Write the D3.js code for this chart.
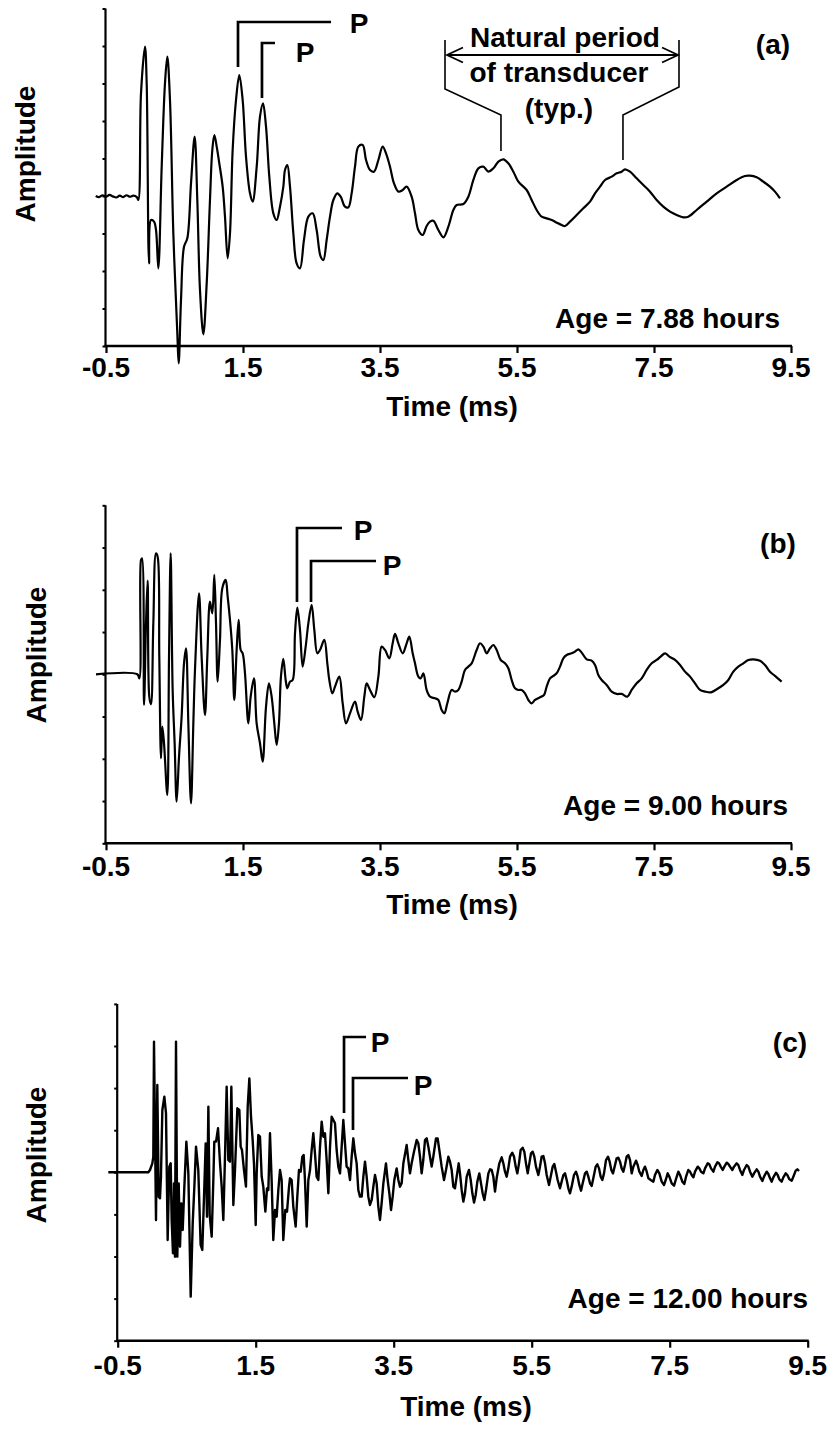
<!DOCTYPE html>
<html><head><meta charset="utf-8">
<script src="https://cdn.jsdelivr.net/npm/d3@7"></script>
<style>
body{margin:0;background:#fff}
text{font-family:"Liberation Sans",Arial,Helvetica,sans-serif;font-weight:bold;fill:#000}
</style>
</head><body>
<svg id="chart" width="836" height="1447"></svg>
<script>
// ---------------- DATA ----------------
const xTicks = [-0.5, 1.5, 3.5, 5.5, 7.5, 9.5];
const xTickLabels = ["-0.5", "1.5", "3.5", "5.5", "7.5", "9.5"];
const xTitle = "Time (ms)";
const yTitle = "Amplitude";
const panelLetters = ["(a)", "(b)", "(c)"];
const ageLabels = ["Age = 7.88 hours", "Age = 9.00 hours", "Age = 12.00 hours"];
const yDomains = [[-4, 5], [-4, 4], [-4, 4]];
const yTicksA = [-4, -3, -2, -1, 0, 1, 2, 3, 4, 5];
const yTicksBC = [-4, -3, -2, -1, 0, 1, 2, 3, 4];

// waveform (a): [time ms, amplitude]
const waveA = [[-0.65,0],[-0.6,-0.03],[-0.55,0.02],[-0.5,-0.02],[-0.45,0.03],[-0.4,-0.01],[-0.35,-0.04],[-0.3,0.01],[-0.25,-0.03],[-0.2,0.02],[-0.15,-0.02],[-0.1,0.01],[-0.05,-0.03],
[-0.028,-0.107],[0.011,2.738],[0.069,3.982],[0.094,3.004],[0.128,-1.796],[0.157,-0.64],[0.201,-0.684],[0.230,-0.907],[0.264,-1.929],[0.313,0.782],[0.361,3.004],[0.395,3.716],[0.434,2.56],[0.483,-0.996],[0.541,-3.662],[0.561,-4.462],[0.595,-2.773],[0.639,-1.351],[0.687,-1.129],[0.741,0.338],[0.794,1.582],[0.833,-0.107],[0.872,-2.507],[0.921,-3.689],[0.970,-2.329],[1.018,-0.107],[1.052,1.227],[1.082,1.627],[1.116,1.316],[1.154,0.871],[1.203,0.249],[1.237,-0.551],[1.276,-1.662],[1.310,-0.996],[1.349,1.227],[1.398,2.56],[1.446,3.227],[1.495,2.56],[1.544,1.049],[1.602,0.071],[1.641,-0.151],[1.700,0.782],[1.748,2.116],[1.792,2.471],[1.836,1.849],[1.884,0.516],[1.943,-0.462],[1.991,-0.64],[2.040,-0.284],[2.089,0.249],[2.113,0.693],[2.147,0.827],[2.186,0.249],[2.235,-0.996],[2.283,-1.796],[2.332,-1.929],[2.390,-1.173],[2.454,-0.551],[2.517,-0.462],[2.575,-0.907],[2.634,-1.618],[2.673,-1.707],[2.721,-1.173],[2.770,-0.551],[2.819,-0.107],[2.877,0.071],[2.926,-0.018],[2.989,-0.284],[3.038,-0.302],[3.086,0.071],[3.135,0.782],[3.184,1.316],[3.247,1.36],[3.296,0.96],[3.354,0.693],[3.412,0.649],[3.476,0.96],[3.539,1.316],[3.588,1.138],[3.646,0.782],[3.704,0.338],[3.768,0.116],[3.831,0.16],[3.889,0.249],[3.962,-0.018],[4.011,-0.462],[4.06,-0.907],[4.123,-1.04],[4.181,-0.8],[4.230,-0.684],[4.279,-0.658],[4.352,-0.907],[4.425,-1.102],[4.498,-0.818],[4.571,-0.373],[4.619,-0.24],[4.717,-0.213],[4.790,-0.018],[4.863,0.427],[4.936,0.738],[5.009,0.782],[5.082,0.649],[5.155,0.738],[5.228,0.916],[5.301,0.978],[5.374,0.871],[5.447,0.649],[5.520,0.382],[5.641,0.16],[5.714,-0.107],[5.787,-0.373],[5.860,-0.551],[5.933,-0.596],[6.006,-0.64],[6.079,-0.711],[6.152,-0.773],[6.201,-0.8],[6.274,-0.684],[6.371,-0.507],[6.468,-0.329],[6.566,-0.151],[6.639,0.071],[6.712,0.249],[6.785,0.427],[6.882,0.516],[6.955,0.604],[7.028,0.649],[7.077,0.711],[7.150,0.649],[7.247,0.471],[7.344,0.293],[7.442,0.116],[7.539,-0.107],[7.636,-0.284],[7.734,-0.418],[7.831,-0.507],[7.928,-0.569],[8.001,-0.551],[8.123,-0.373],[8.269,-0.151],[8.415,0.071],[8.561,0.249],[8.707,0.427],[8.828,0.533],[8.901,0.542],[8.999,0.498],[9.096,0.382],[9.193,0.249],[9.266,0.116],[9.339,-0.062]];

// waveform (b)
const waveB = [[-0.646,0],[-0.043,0],[-0.013,-0.095],[0.011,2.706],[0.026,2.746],[0.055,-0.726],[0.084,1.207],[0.108,2.217],[0.132,-0.529],[0.157,-0.71],[0.191,1.207],[0.230,2.864],[0.254,2.785],[0.278,0.418],[0.303,-1.988],[0.322,-1.239],[0.347,-1.633],[0.395,-2.856],[0.420,0.418],[0.444,2.864],[0.473,-0.371],[0.502,-1.633],[0.531,-3.014],[0.566,-1.949],[0.604,-1.002],[0.639,0.26],[0.668,0.615],[0.702,-1.16],[0.741,-3.053],[0.775,-1.16],[0.799,0.103],[0.858,1.917],[0.896,0.418],[0.945,-0.963],[0.979,0.418],[1.018,1.72],[1.052,1.444],[1.081,2.351],[1.106,1.207],[1.130,-0.174],[1.164,0.813],[1.198,2.036],[1.247,2.233],[1.276,1.838],[1.310,1.286],[1.344,0.576],[1.373,-0.607],[1.407,0.576],[1.437,1.286],[1.466,0.576],[1.495,0.497],[1.529,0.024],[1.578,-1.16],[1.612,-0.529],[1.660,-0.095],[1.699,-1.16],[1.748,-1.633],[1.787,-2.067],[1.836,-0.765],[1.879,-0.213],[1.918,-0.529],[1.957,-1.16],[1.991,-1.673],[2.025,-1.16],[2.054,-0.055],[2.088,0.363],[2.123,-0.134],[2.147,-0.331],[2.186,-0.174],[2.225,-0.134],[2.259,0.97],[2.293,1.578],[2.332,1.049],[2.371,0.181],[2.415,0.655],[2.454,1.207],[2.502,1.641],[2.541,1.049],[2.585,0.497],[2.624,0.576],[2.687,0.813],[2.731,0.26],[2.760,-0.134],[2.804,-0.45],[2.843,-0.292],[2.906,-0.055],[2.955,-0.686],[3.004,-1.16],[3.062,-0.923],[3.135,-0.647],[3.174,-0.884],[3.223,-1.081],[3.271,-0.529],[3.305,-0.213],[3.354,-0.371],[3.417,-0.544],[3.476,-0.055],[3.524,0.655],[3.573,0.576],[3.636,0.379],[3.685,0.734],[3.719,0.955],[3.768,0.734],[3.831,0.497],[3.889,0.734],[3.928,0.892],[3.977,0.497],[4.011,0.26],[4.060,-0.055],[4.094,-0.095],[4.133,0.024],[4.181,-0.371],[4.230,-0.529],[4.303,-0.568],[4.352,-0.608],[4.400,-0.844],[4.439,-0.923],[4.483,-0.686],[4.546,-0.371],[4.595,-0.41],[4.644,-0.371],[4.692,-0.174],[4.741,0.103],[4.790,0.181],[4.838,0.26],[4.911,0.576],[4.960,0.734],[5.009,0.655],[5.057,0.497],[5.106,0.615],[5.155,0.694],[5.203,0.576],[5.262,0.339],[5.325,0.26],[5.374,0.142],[5.422,-0.134],[5.471,-0.331],[5.520,-0.371],[5.568,-0.371],[5.617,-0.45],[5.666,-0.608],[5.714,-0.686],[5.763,-0.608],[5.836,-0.544],[5.894,-0.489],[5.933,-0.292],[5.982,-0.095],[6.030,-0.039],[6.079,0.024],[6.128,0.181],[6.176,0.379],[6.225,0.458],[6.298,0.497],[6.347,0.536],[6.395,0.592],[6.444,0.513],[6.517,0.355],[6.590,0.323],[6.639,0.221],[6.687,-0.016],[6.736,-0.134],[6.809,-0.252],[6.882,-0.41],[6.955,-0.465],[7.028,-0.465],[7.111,-0.529],[7.174,-0.371],[7.247,-0.213],[7.320,-0.095],[7.393,0.103],[7.466,0.26],[7.539,0.339],[7.597,0.418],[7.661,0.497],[7.724,0.418],[7.807,0.339],[7.880,0.221],[7.953,0.063],[8.026,-0.055],[8.099,-0.213],[8.172,-0.371],[8.245,-0.41],[8.332,-0.426],[8.415,-0.355],[8.512,-0.252],[8.585,-0.134],[8.658,0.063],[8.731,0.181],[8.804,0.26],[8.877,0.339],[8.950,0.355],[9.047,0.323],[9.120,0.221],[9.193,0.063],[9.266,-0.039],[9.363,-0.174]];

// waveform (c)
const waveC = [[-0.636,0],[-0.056,0],[-0.032,0.055],[0.002,0.213],[0.016,0.371],[0.026,3.103],[0.055,-1.133],[0.074,2.074],[0.094,-0.579],[0.113,-0.618],[0.127,-0.103],[0.147,1.48],[0.176,1.796],[0.200,1.401],[0.224,-1.608],[0.248,0.134],[0.268,0.213],[0.282,-1.133],[0.301,-1.924],[0.316,-0.262],[0.330,-2.004],[0.345,3.103],[0.364,-2.004],[0.384,-0.262],[0.403,-1.766],[0.422,-0.737],[0.442,-1.37],[0.466,-0.341],[0.495,0.728],[0.524,-0.025],[0.558,-2.954],[0.587,-1.212],[0.611,-0.341],[0.635,0.609],[0.668,0.055],[0.702,-1.726],[0.726,-1.845],[0.751,-0.579],[0.775,0.688],[0.794,-1.054],[0.814,1.559],[0.833,-1.014],[0.862,-1.529],[0.886,-0.183],[0.900,0.728],[0.925,0.728],[0.954,1.045],[0.983,0.213],[1.007,-0.341],[1.031,-1.133],[1.055,0.371],[1.079,2.034],[1.103,0.292],[1.127,0.253],[1.147,2.034],[1.176,-0.776],[1.200,0.055],[1.234,1.52],[1.263,1.48],[1.282,0.609],[1.301,0.53],[1.330,0.055],[1.359,-0.341],[1.384,1.559],[1.408,2.232],[1.432,1.321],[1.456,0.767],[1.475,0.213],[1.500,-1.252],[1.514,-0.025],[1.538,0.886],[1.562,0.846],[1.587,-0.104],[1.610,-0.341],[1.640,-0.935],[1.664,-0.381],[1.683,-0.42],[1.707,0.926],[1.731,-0.183],[1.755,-1.608],[1.780,-0.895],[1.804,-1.054],[1.828,-0.42],[1.852,0.055],[1.876,-0.183],[1.900,-1.608],[1.929,-0.895],[1.954,-0.935],[1.983,-0.341],[1.997,-0.143],[2.021,-0.183],[2.045,-0.815],[2.079,-1.29],[2.103,-0.578],[2.127,0.055],[2.152,0.015],[2.176,0.371],[2.195,0.411],[2.214,-0.183],[2.239,-1.29],[2.263,-0.183],[2.287,0.055],[2.311,0.53],[2.335,0.926],[2.359,0.451],[2.383,-0.104],[2.408,-0.183],[2.432,0.609],[2.456,1.203],[2.480,0.846],[2.504,0.926],[2.528,0.292],[2.553,-0.499],[2.577,0.609],[2.601,1.321],[2.625,1.242],[2.649,1.163],[2.673,0.53],[2.697,0.134],[2.722,-0.025],[2.746,0.609],[2.770,1.242],[2.794,0.688],[2.818,0.134],[2.842,0.094],[2.867,-0.183],[2.891,0.371],[2.915,0.807],[2.939,0.451],[2.963,0.213],[2.987,-0.42],[3.011,-0.578],[3.036,-0.578],[3.060,-0.104],[3.084,0.253],[3.108,-0.104],[3.132,-0.578],[3.156,-0.776],[3.181,-0.657],[3.205,-0.341],[3.229,-0.064],[3.253,-0.262],[3.277,-0.815],[3.301,-1.132],[3.325,-0.736],[3.350,-0.262],[3.388,0.213],[3.412,-0.183],[3.437,-0.499],[3.461,-0.895],[3.485,-0.578],[3.509,-0.183],[3.543,0.094],[3.567,-0.183],[3.591,-0.341],[3.615,-0.262],[3.640,0.213],[3.688,0.648],[3.712,0.292],[3.736,-0.025],[3.760,0.213],[3.794,0.49],[3.833,0.767],[3.857,0.688],[3.881,0.371],[3.905,-0.025],[3.929,0.292],[3.954,0.767],[3.978,0.807],[4.002,0.609],[4.026,0.371],[4.050,0.134],[4.074,0.371],[4.113,0.807],[4.137,0.807],[4.161,0.53],[4.195,0.134],[4.229,-0.183],[4.258,0.055],[4.292,0.371],[4.316,0.253],[4.340,0.055],[4.364,-0.341],[4.388,-0.38],[4.413,-0.104],[4.442,0.213],[4.461,-0.025],[4.485,-0.42],[4.509,-0.697],[4.533,-0.499],[4.558,-0.104],[4.591,0.055],[4.616,-0.183],[4.640,-0.499],[4.664,-0.721],[4.688,-0.539],[4.712,-0.222],[4.741,-0.025],[4.765,-0.262],[4.789,-0.499],[4.814,-0.657],[4.838,-0.42],[4.872,-0.025],[4.896,0.07],[4.920,0.055],[4.944,-0.104],[4.968,-0.46],[4.992,-0.143],[5.031,0.213],[5.065,0.355],[5.089,0.213],[5.113,0.015],[5.137,-0.104],[5.161,0.094],[5.186,0.371],[5.219,0.466],[5.244,0.371],[5.268,0.134],[5.292,-0.025],[5.316,0.213],[5.340,0.53],[5.369,0.585],[5.393,0.49],[5.417,0.213],[5.442,-0.025],[5.466,0.213],[5.490,0.451],[5.514,0.49],[5.538,0.371],[5.562,0.134],[5.596,-0.064],[5.620,0.134],[5.644,0.371],[5.669,0.387],[5.693,0.213],[5.717,-0.064],[5.751,-0.301],[5.775,-0.104],[5.804,0.134],[5.828,0.197],[5.852,0.015],[5.876,-0.183],[5.910,-0.38],[5.934,-0.222],[5.959,-0.064],[5.983,-0.025],[6.007,-0.183],[6.031,-0.38],[6.055,-0.499],[6.079,-0.341],[6.113,-0.064],[6.142,0.015],[6.166,-0.104],[6.190,-0.301],[6.215,-0.436],[6.239,-0.262],[6.273,-0.025],[6.297,0.015],[6.321,-0.104],[6.345,-0.262],[6.369,-0.325],[6.393,-0.143],[6.427,0.134],[6.451,0.189],[6.475,0.094],[6.500,-0.104],[6.524,-0.183],[6.548,-0.025],[6.577,0.292],[6.606,0.371],[6.630,0.253],[6.654,0.055],[6.678,-0.025],[6.702,0.134],[6.731,0.331],[6.756,0.347],[6.780,0.253],[6.804,0.094],[6.828,0.015],[6.852,0.173],[6.876,0.371],[6.900,0.411],[6.925,0.292],[6.949,-0.025],[6.973,0.134],[7.012,0.276],[7.036,0.173],[7.060,0.015],[7.094,-0.088],[7.118,0.055],[7.142,0.134],[7.167,0.015],[7.191,-0.143],[7.225,-0.183],[7.263,-0.222],[7.287,-0.064],[7.321,0.055],[7.350,-0.025],[7.384,-0.222],[7.418,-0.301],[7.442,-0.183],[7.471,-0.025],[7.495,-0.104],[7.529,-0.262],[7.563,-0.317],[7.587,-0.183],[7.625,0.015],[7.650,-0.064],[7.683,-0.222],[7.712,-0.278],[7.737,-0.104],[7.770,0.055],[7.795,0.015],[7.819,-0.064],[7.843,-0.12],[7.867,0.015],[7.906,0.134],[7.930,0.094],[7.954,0.015],[7.988,-0.025],[8.012,0.094],[8.051,0.213],[8.075,0.189],[8.099,0.094],[8.133,0.015],[8.157,0.134],[8.191,0.237],[8.215,0.213],[8.239,0.134],[8.268,0.055],[8.292,0.134],[8.326,0.229],[8.350,0.197],[8.374,0.134],[8.408,0.055],[8.432,0.134],[8.471,0.213],[8.495,0.173],[8.519,0.055],[8.553,-0.064],[8.577,0.055],[8.616,0.173],[8.640,0.134],[8.664,0.015],[8.698,-0.104],[8.722,-0.025],[8.761,0.07],[8.785,0.015],[8.809,-0.104],[8.843,-0.207],[8.867,-0.104],[8.906,0.015],[8.930,-0.04],[8.954,-0.143],[8.978,-0.222],[9.002,-0.12],[9.041,-0.009],[9.065,-0.064],[9.089,-0.167],[9.123,-0.222],[9.147,-0.12],[9.181,-0.025],[9.205,-0.064],[9.234,-0.167],[9.268,-0.199],[9.292,-0.104],[9.326,0.039],[9.350,0.07],[9.374,0.031]];

// "P" brackets: [time of leg, amp bottom, amp top, time end of arm, label time, label amp]
const bracketsA = [[1.427, 3.44, 4.64, 2.785, 3.193, 4.347], [1.777, 2.613, 4.08, 1.967, 2.405, 3.573]];
const bracketsB = [[2.288, 1.711, 3.463, 2.945, 3.252, 3.179], [2.493, 1.711, 2.682, 3.442, 3.675, 2.35]];
const bracketsC = [[2.780, 1.409, 3.214, 3.099, 3.301, 2.857], [2.910, 1.005, 2.240, 3.707, 3.925, 1.836]];
const bracketLabel = "P";

// natural period annotation (panel a), in data units
const npLeftLeg = [[4.449, 4.16], [4.449, 2.853], [5.266, 2.16], [5.266, 1.2]];
const npRightLeg = [[7.865, 4.16], [7.865, 2.907], [7.047, 2.16], [7.047, 0.96]];
const npArrow = [[4.478, 3.76], [7.851, 3.76]];
const npText = ["Natural period", "of transducer", "(typ.)"];
const npTextPos = [[6.20, 3.973], [6.113, 3.04], [6.113, 2.08]];

// positions of letters / age labels in data units
const letterPos = [[9.237, 3.8], [9.31, 2.871], [9.243, 2.857]];
const agePos = [[9.339, -3.52], [9.456, -3.33], [9.505, -3.22]];

// ---------------- LAYOUT ----------------
const panels = [
  {wave: waveA, br: bracketsA, yTicks: yTicksA, x0: 106, x1: 791, yTop: 8.5, yBot: 346,
   tickBase: 377, titleBase: 416, titleX: 452, ampX: 35, ampY: 154},
  {wave: waveB, br: bracketsB, yTicks: yTicksBC, x0: 106, x1: 791, yTop: 505.3, yBot: 843.3,
   tickBase: 876, titleBase: 914, titleX: 452, ampX: 46, ampY: 655},
  {wave: waveC, br: bracketsC, yTicks: yTicksBC, x0: 117.7, x1: 807.7, yTop: 1003.9, yBot: 1340.7,
   tickBase: 1375, titleBase: 1416, titleX: 466, ampX: 46, ampY: 1155}
];

const svg = d3.select("#chart");
const FS = 28;

panels.forEach((p, i) => {
  const x = d3.scaleLinear().domain([-0.5, 9.5]).range([p.x0, p.x1]);
  const y = d3.scaleLinear().domain(yDomains[i]).range([p.yBot, p.yTop]);
  const g = svg.append("g");

  // waveform
  const line = d3.line().x(d => x(d[0])).y(d => y(d[1]))
    .curve(i === 2 ? d3.curveLinear : d3.curveCatmullRom.alpha(0.5));
  g.append("path").datum(p.wave).attr("d", line)
    .attr("fill", "none").attr("stroke", "#000").attr("stroke-width", i === 2 ? 2.4 : 2.2)
    .attr("stroke-linejoin", "round");

  // y axis
  const yAxis = d3.axisLeft(y).tickValues(p.yTicks).tickSize(3).tickFormat("");
  const ya = g.append("g").attr("transform", `translate(${p.x0 - 0.5},0)`).call(yAxis);
  ya.select(".domain").attr("d", `M0,${p.yTop}V${p.yBot}`).attr("stroke-width", 2.2);
  ya.selectAll(".tick line").attr("stroke-width", 2);

  // x axis
  const xAxis = d3.axisBottom(x).tickValues(xTicks).tickSize(7).tickFormat("");
  const xa = g.append("g").attr("transform", `translate(0,${p.yBot})`).call(xAxis);
  xa.select(".domain").attr("d", `M${p.x0 - 1.5},0H${p.x1 + 1}`).attr("stroke-width", 2.6);
  xa.selectAll(".tick line").attr("stroke-width", 2.2);

  // tick labels
  g.selectAll(".xl").data(xTicks).enter().append("text")
    .attr("x", d => x(d)).attr("y", p.tickBase)
    .attr("text-anchor", "middle").attr("font-size", FS)
    .text((d, k) => xTickLabels[k]);

  // axis titles
  g.append("text").attr("x", p.titleX).attr("y", p.titleBase)
    .attr("text-anchor", "middle").attr("font-size", FS).text(xTitle);
  g.append("text").attr("transform", `translate(${p.ampX},${p.ampY}) rotate(-90)`)
    .attr("text-anchor", "middle").attr("font-size", FS).text(yTitle);

  // P brackets
  p.br.forEach(b => {
    g.append("path")
      .attr("d", `M${x(b[0])},${y(b[1])}V${y(b[2])}H${x(b[3])}`)
      .attr("fill", "none").attr("stroke", "#000").attr("stroke-width", 2.7);
    g.append("text").attr("x", x(b[4])).attr("y", y(b[5]))
      .attr("text-anchor", "middle").attr("font-size", FS).text(bracketLabel);
  });

  // panel letter and age
  g.append("text").attr("x", x(letterPos[i][0])).attr("y", y(letterPos[i][1]))
    .attr("text-anchor", "middle").attr("font-size", FS).text(panelLetters[i]);
  g.append("text").attr("x", x(agePos[i][0])).attr("y", y(agePos[i][1]))
    .attr("text-anchor", "end").attr("font-size", FS).text(ageLabels[i]);

  if (i === 0) {
    const l2 = d3.line().x(d => x(d[0])).y(d => y(d[1]));
    [npLeftLeg, npRightLeg].forEach(leg => {
      g.append("path").attr("d", l2(leg)).attr("fill", "none")
        .attr("stroke", "#000").attr("stroke-width", 1.6);
    });
    const ax0 = x(npArrow[0][0]), ax1 = x(npArrow[1][0]), ay = y(npArrow[0][1]);
    g.append("path")
      .attr("d", `M${ax0},${ay}H${ax1}M${ax0 + 16},${ay - 7.5}L${ax0},${ay}L${ax0 + 16},${ay + 7.5}M${ax1 - 16},${ay - 7.5}L${ax1},${ay}L${ax1 - 16},${ay + 7.5}`)
      .attr("fill", "none").attr("stroke", "#000").attr("stroke-width", 1.8);
    npText.forEach((t, k) => {
      g.append("text").attr("x", x(npTextPos[k][0])).attr("y", y(npTextPos[k][1]))
        .attr("text-anchor", "middle").attr("font-size", FS).text(t);
    });
  }
});
</script>
</body></html>
